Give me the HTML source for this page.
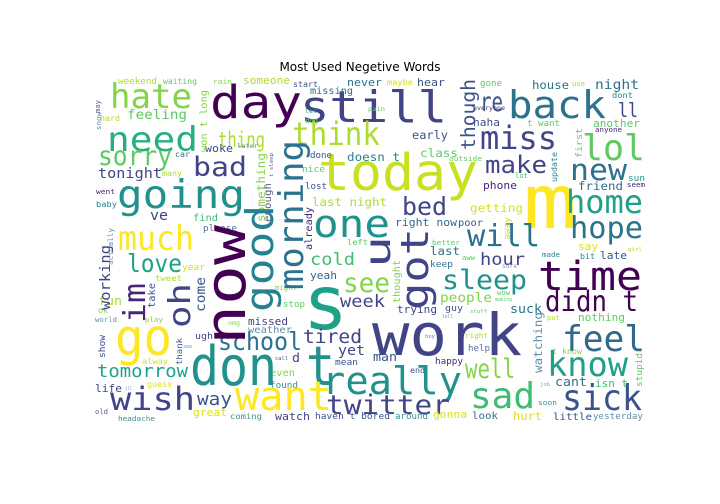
<!DOCTYPE html>
<html><head><meta charset="utf-8"><style>
html,body{margin:0;padding:0;background:#fff;}
svg{display:block;}
</style></head><body>
<svg id="cloud" width="720" height="504" viewBox="0 0 720 504" xmlns="http://www.w3.org/2000/svg">
<rect width="720" height="504" fill="#fff"/>
<text x="360" y="71" text-anchor="middle" font-family="DejaVu Sans, Liberation Sans, sans-serif" font-size="12" fill="#000">Most Used Negetive Words</text>
<g id="words"></g>
</svg>
<script>
var P1="#440154",P2="#482677",P3="#414487",P4="#3b528b",T1="#31688e",T2="#2c728e",T3="#26828e",T4="#21918c",T5="#1fa187",G1="#29af7f",G2="#3fbc73",G3="#5ec962",G4="#84d44b",Y1="#addc30",Y2="#d8e219",Y3="#fde725",GB="#5f8fa5",GT="#3b8f8f",GP="#5b5b8a";
var hWords=[
["weekend",118,157,84,0,Y1],["waiting",163,197,84,0,G3],["rain",213,232,84,0,G4],["someone",243,290,84,0,Y1],
["start",293,318,87,0,P4],["never",347,382,86,0,T2],["maybe",387,413,85,0,Y2],["hear",417,445,86,0,P4],
["gone",480,502,86,0,G3],["house",532,569,89,0,T2],["use",572,585,86,0,Y1],["night",595,639,89,0,T2],
["dont",612,633,98,0,T3],["hate",110,192,108,38,G4],["day",210,302,118,52,P1],["still",300,447,122,50,P3],
["missing",310,353,94,0,T2],["re",480,503,111,30,P4],["back",508,606,118,44,T2],["ll",618,638,117,22,P3],
["pain",368,385,111,0,G3],["everyone",473,505,110,0,P2],["haha",473,500,126,0,P4],["t want",527,560,126,0,G3],
["another",593,640,127,0,G3],["anyone",595,622,132,0,P2],["feeling",127,187,119,0,G3],["hard",100,120,121,0,Y1],
["let",305,317,113,0,T4],["dog",305,318,123,0,G3],["need",107,198,151,38,G1],["thing",218,265,147,24,Y1],
["think",292,380,145,36,Y1],["miss",480,557,149,36,P3],["lol",582,645,160,40,G3],["early",412,448,139,0,P4],
["class",420,458,157,0,G3],["doesn t",347,400,161,0,T3],["outside",449,482,161,0,G3],["make",485,547,173,0,P3],
["new",570,627,180,0,T2],["lot",515,528,178,0,G2],["phone",483,517,189,0,P2],["today",318,478,190,58,"#c8e020"],
["m",523,577,228,85,Y3],["sorry",98,172,165,30,G3],["bad",193,247,176,30,P3],["woke",205,233,152,0,P3],
["later",237,258,148,0,GB],["car",175,190,157,0,T2],["tonight",98,162,178,0,P3],["done",310,332,158,0,P4],
["nice",302,325,172,0,G3],["many",162,182,176,0,Y1],["lost",305,327,189,0,P4],["last night",312,387,206,0,Y1],
["going",117,245,208,45,T4],["friend",578,623,190,0,T2],["sun",628,645,181,0,T4],["seem",627,645,187,0,P2],
["home",566,643,213,36,T5],["went",96,115,194,0,P2],["baby",96,117,207,0,T3],["ve",150,168,220,0,P3],
["bed",402,447,215,28,P3],["getting",470,523,212,0,Y2],["right now",395,457,226,0,T1],["poor",458,483,226,0,P4],
["hope",570,643,238,34,T2],["find",193,218,221,0,G2],["please",203,237,231,0,"#5b6f9a"],["one",313,390,237,44,T4],
["will",467,540,246,34,T2],["better",432,460,245,0,G3],["much",118,194,250,38,Y3],["say",578,598,250,0,Y2],
["girl",628,642,251,0,Y1],["left",347,368,245,0,G3],["last",430,460,255,0,T2],["bit",580,595,259,0,T3],
["late",600,627,259,0,P4],["made",542,560,257,0,T3],["aww",462,475,260,0,G3],["love",127,182,272,28,T5],
["year",182,205,270,0,Y2],["cold",310,355,265,0,G2],["hour",480,525,265,0,P3],["keep",430,453,267,0,T2],
["sure",502,517,268,0,"#8f8fc0"],["yeah",310,337,279,0,T1],["tweet",155,182,281,0,Y1],["might",275,297,290,0,G4],
["see",343,390,292,30,G4],["sleep",442,527,289,30,T4],["time",538,642,290,46,P1],["people",440,492,302,0,G4],
["wow",497,510,295,0,G3],["making",495,512,301,0,G3],["fun",98,122,305,0,Y1],["stop",283,305,307,0,G3],
["week",340,385,307,0,P3],["didn t",545,638,311,32,P1],["guy",445,463,311,0,P4],["trying",397,437,313,0,P3],
["stuff",470,487,313,0,G3],["suck",510,542,313,0,T2],["ok",98,108,313,0,G4],["tell",442,453,318,0,"#6b9a9a"],
["put",547,560,320,0,Y1],["nothing",578,625,321,0,G3],["world",95,117,322,0,GB],["play",145,163,322,0,G4],
["omg",228,240,325,0,G4],["missed",248,288,325,0,P3],["s",303,348,329,85,T5],["weather",248,292,333,0,GB],
["hey",425,435,338,0,GB],["right",465,488,338,0,Y1],["ugh",195,213,339,0,P3],["tired",303,362,343,0,P3],
["leave",182,192,348,0,GB],["school",218,302,350,28,T2],["help",468,490,351,0,"#5b6f9a"],["feel",562,645,351,40,T1],
["t know",552,582,354,0,G4],["work",372,522,355,66,P3],["go",115,172,355,58,Y3],["yet",338,365,355,0,P3],
["call",275,288,360,0,P4],["man",373,397,361,0,P4],["d",292,300,362,0,P3],["happy",435,463,364,0,P2],
["mean",335,358,365,0,P4],["alway",142,168,364,0,Y2],["end",410,425,373,0,P4],["even",270,295,376,0,G4],
["tomorrow",97,188,377,0,T5],["know",547,628,376,38,T5],["well",465,515,378,30,G4],["don t",190,335,385,62,T4],
["cant",555,587,386,0,T2],["job",540,550,386,0,G3],["isn t",595,628,387,0,G2],["guess",147,172,387,0,Y2],
["found",270,298,388,0,GT],["life",95,122,392,0,P3],["ill",125,132,390,0,"#8f8fc0"],["really",322,462,394,44,T4],
["soon",538,557,405,0,GT],["way",197,232,405,0,P4],["sad",470,535,408,40,G2],["wish",110,195,410,36,P3],
["want",235,332,410,46,Y3],["sick",562,642,410,40,P4],["twitter",326,450,414,30,P3],["old",95,108,414,0,GP],
["great",193,227,416,0,Y2],["gonna",433,467,418,0,Y2],["look",472,498,419,0,T2],["hurt",513,542,420,0,Y2],
["little",553,592,420,0,P4],["yesterday",593,643,419,0,GB],["haven t bored",315,390,419,0,P4],["around",395,428,419,0,GT],
["coming",230,262,419,0,GT],["watch",275,310,420,0,P3],["headache",118,155,421,0,GT]
];
var vWords=[
["won t long",207,152,90,0,G4],["may",100,113,100,0,GP],["snow",101,130,112,0,GB],["though",475,150,79,22,P4],
["update",557,182,152,0,T3],["first",582,158,128,0,G3],["something",265,222,153,0,G4],["t sleep",273,177,153,0,GP],
["enough",271,222,183,0,GP],["morning",303,290,140,38,T2],["good",273,312,205,44,T3],["already",312,250,207,0,P2],
["now",245,345,225,64,P1],["u",390,268,236,40,P3],["got",428,310,228,44,P3],["thought",400,303,260,0,G4],
["away",510,240,217,0,Y2],["watching",542,373,312,0,GB],["stupid",642,387,353,0,G3],["actually",113,265,228,0,GB],
["working",110,310,245,0,P3],["im",145,323,283,34,P2],["oh",190,328,283,34,P3],["take",155,308,283,0,P4],
["come",205,312,277,0,P4],["show",105,358,335,0,P3],["thank",182,365,338,0,P4]
];
var SCALE=0.88;
var NS="http://www.w3.org/2000/svg";
var g=document.getElementById("words");
function slug(s){return s.replace(/\s+/g,"-");}
hWords.forEach(function(w){
  var len=w[2]-w[1];
  var fs=(w[4]||Math.max(6,len/(w[0].length*0.6)*1.05))*SCALE;
  var t=document.createElementNS(NS,"text");
  t.setAttribute("x",w[1]);
  t.setAttribute("y",w[3]);
  t.setAttribute("font-size",fs.toFixed(1));
  t.setAttribute("fill",w[5]);
  t.setAttribute("textLength",len);
  t.setAttribute("lengthAdjust","spacingAndGlyphs");
  t.setAttribute("font-family","DejaVu Sans Mono, Liberation Mono, monospace");
  
  
  t.textContent=w[0];
  g.appendChild(t);
});
vWords.forEach(function(w){
  var len=w[2]-w[3];
  var fs=(w[4]||Math.max(6,len/(w[0].length*0.6)*1.05))*SCALE;
  var t=document.createElementNS(NS,"text");
  t.setAttribute("x",w[1]);
  t.setAttribute("y",w[2]);
  t.setAttribute("transform","rotate(-90 "+w[1]+" "+w[2]+")");
  t.setAttribute("font-size",fs.toFixed(1));
  t.setAttribute("fill",w[5]);
  t.setAttribute("textLength",len);
  t.setAttribute("lengthAdjust","spacingAndGlyphs");
  t.setAttribute("font-family","DejaVu Sans Mono, Liberation Mono, monospace");
  
  
  t.textContent=w[0];
  g.appendChild(t);
});
</script>
</body></html>
